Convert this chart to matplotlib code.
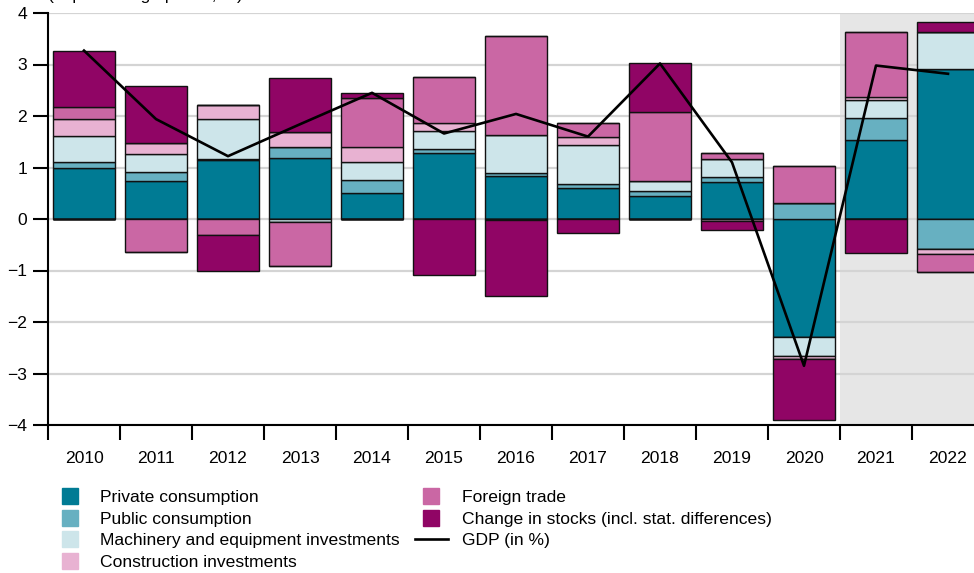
import matplotlib
matplotlib.use('Agg')
import matplotlib.pyplot as plt
from matplotlib.lines import Line2D
import numpy as np

years = ['2010', '2011', '2012', '2013', '2014', '2015', '2016',
         '2017', '2018', '2019', '2020', '2021', '2022']

# contributions in percentage points
private = [1.00, 0.74, 1.15, 1.18, 0.51, 1.28, 0.84, 0.60, 0.44, 0.71, -2.30, 1.53, 2.91]
public = [0.10, 0.17, 0.02, 0.22, 0.25, 0.07, 0.05, 0.07, 0.10, 0.10, 0.32, 0.44, -0.59]
machinery = [0.52, 0.35, 0.78, -0.06, 0.34, 0.36, 0.75, 0.77, 0.20, 0.36, -0.36, 0.34, 0.72]
construction = [0.32, 0.21, 0.26, 0.29, 0.30, 0.16, -0.02, 0.15, 0.00, -0.04, -0.06, 0.05, -0.08]
foreign = [0.23, -0.65, -0.32, -0.85, 0.94, 0.88, 1.91, 0.27, 1.33, 0.12, 0.71, 1.28, -0.35]
stocks = [1.10, 1.11, -0.68, 1.05, 0.11, -1.09, -1.48, -0.28, 0.95, -0.17, -1.18, -0.66, 0.20]
gdp = [3.27, 1.94, 1.22, 1.84, 2.45, 1.66, 2.04, 1.60, 3.02, 1.10, -2.85, 2.98, 2.82]

series = [
    ('Private consumption', private, '#007B94'),
    ('Public consumption', public, '#67B0C1'),
    ('Machinery and equipment investments', machinery, '#CDE5EA'),
    ('Construction investments', construction, '#E8B2D2'),
    ('Foreign trade', foreign, '#CA67A4'),
    ('Change in stocks (incl. stat. differences)', stocks, '#900565'),
]

plt.rcParams['font.family'] = ['Liberation Sans', 'DejaVu Sans']
plt.rcParams['font.size'] = 12.6

W, H = 974, 573
fig = plt.figure(figsize=(W / 100, H / 100), dpi=100)
# axes runs a bit past the right edge, like the cropped original
ax = fig.add_axes([48 / W, 1 - 425 / H, (984 - 48) / W, (425 - 13) / H])

x = np.arange(len(years))
ax.axvspan(10.5, 13, color='#E6E6E6', zorder=0, lw=0)

pos_bottom = np.zeros(len(years))
neg_bottom = np.zeros(len(years))
handles = []
for name, vals, col in series:
    v = np.array(vals)
    pos = np.where(v > 0, v, 0)
    neg = np.where(v < 0, v, 0)
    ax.bar(x, pos, 0.855, bottom=pos_bottom, color=col, edgecolor='#111111',
           linewidth=1.0, zorder=2)
    ax.bar(x, neg, 0.855, bottom=neg_bottom, color=col, edgecolor='#111111',
           linewidth=1.0, zorder=2)
    pos_bottom += pos
    neg_bottom += neg
    handles.append(Line2D([], [], marker='s', markersize=11, linestyle='none',
                          color=col, label=name))

ax.plot(x, gdp, color='black', linewidth=1.9, zorder=3)
handles.append(Line2D([], [], color='black', linewidth=1.9, label='GDP (in %)'))

ax.set_xlim(-0.5, 12.5)
ax.set_ylim(-4, 4)
ax.set_yticks(range(-4, 5))
ax.yaxis.grid(True, color='#D4D4D4', linewidth=1.6, zorder=1)
ax.set_axisbelow(True)

# boundary ticks without labels, year labels at centres
ax.set_xticks(np.arange(-0.5, 13, 1))
ax.set_xticklabels([])
ax.set_xticks(x, minor=True)
ax.set_xticklabels(years, minor=True)
ax.tick_params(axis='x', which='major', length=11, width=1.5, direction='out')
ax.tick_params(axis='x', which='minor', length=0, pad=18.5)
ax.tick_params(axis='y', length=11, width=1.5, pad=4)

for s in ['top', 'right']:
    ax.spines[s].set_visible(False)
for s in ['left', 'bottom']:
    ax.spines[s].set_linewidth(1.5)

# unit line, cut off at the top as in the original (only descenders show)
fig.text(48 / W, 1.0, '(in percentage points, %)', ha='left',
         va='baseline', fontsize=12.6)

fig.legend(handles=handles, ncol=2, loc='upper left',
           bbox_to_anchor=(53 / W, 1 - 490 / H), frameon=False,
           borderpad=0, borderaxespad=0, handlelength=1.9,
           handletextpad=0.8, labelspacing=0.36, columnspacing=0.85)

fig.savefig('out.png', dpi=100)
